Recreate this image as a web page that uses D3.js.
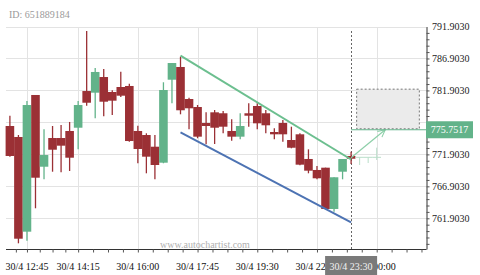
<!DOCTYPE html>
<html>
<head>
<meta charset="utf-8">
<script src="https://d3js.org/d3.v7.min.js"></script>
<style>
  body { margin: 0; background: #fff; }
  svg { display: block; font-family: "Liberation Serif", "Times New Roman", serif; }
</style>
</head>
<body>
<svg width="480" height="275"></svg>
<script>
  // 15 minute candles, 30/4
  const times = ['12:15','12:30','12:45','13:00','13:15','13:30','13:45','14:00','14:15','14:30',
    '14:45','15:00','15:15','15:30','15:45','16:00','16:15','16:30','16:45','17:00',
    '17:15','17:30','17:45','18:00','18:15','18:30','18:45','19:00','19:15','19:30',
    '19:45','20:00','20:15','20:30','20:45','22:00','22:15','22:30','22:45','23:00','23:15'];
  const futureTimes = ['23:30','23:45','00:00','00:15','00:30','00:45','01:00','01:15'];

  const open  = [776.34,774.62,759.81,781.19,769.97,774.46,774.46,775.56,776.07,781.81,
    781.55,784.00,781.66,782.44,782.60,775.56,774.93,773.10,770.60,783.58,
    785.57,780.56,779.31,776.81,778.48,778.33,775.56,774.67,778.33,779.47,
    778.33,775.40,776.81,774.15,775.04,771.18,769.46,769.82,763.36,769.19,771.65];
  const high  = [777.95,774.93,780.25,781.19,775.82,776.34,776.50,776.97,780.25,791.20,
    785.41,785.26,781.92,784.83,782.96,776.39,775.20,774.93,783.18,786.19,
    787.18,780.77,779.62,778.48,778.84,778.69,777.39,778.33,779.89,779.89,
    778.84,775.98,777.28,776.23,775.20,772.69,770.08,769.82,768.32,771.18,772.32];
  const low   = [771.54,757.99,758.40,763.47,768.00,769.19,769.10,769.30,772.69,779.51,
    777.54,777.86,778.06,780.88,773.88,770.51,768.94,768.00,770.51,779.89,
    778.17,775.82,774.42,773.48,773.52,775.20,774.04,774.26,776.23,775.82,
    775.20,774.26,773.88,772.85,770.19,768.94,768.00,763.31,762.93,768.00,770.40];
  const close = [771.65,758.71,779.62,768.25,771.80,772.63,773.26,771.38,779.62,779.98,
    784.79,780.14,780.30,781.08,773.99,772.74,771.54,770.24,781.97,786.19,
    778.80,779.11,774.67,776.34,776.07,776.23,774.67,776.34,777.95,776.76,
    776.45,775.04,775.04,772.94,770.29,769.35,768.16,763.36,768.32,771.18,771.22];

  // faint projected candles after the current bar
  const projIndex = [41, 42, 43];
  const projMid   = [771.44, 771.44, 771.44];
  const projHigh  = [771.44, 771.44, 772.95];
  const projLow   = [770.24, 770.55, 771.02];

  const labelIndex = [2, 8, 15, 22, 29, 36, 43];
  const currentIndex = 40;
  const currentLabel = '30/4 23:30';

  const resistance = [[20, 787.34], [40, 771.10]];
  const support    = [[20, 775.35], [40, 761.26]];
  const projection = [[40, 771.36], [44, 775.75]];
  const forecastBox = { from: 40.65, to: 48, low: 775.9, high: 782.1 };
  const targetLevel = 775.7517;

  const yMajor = [761.903, 766.903, 771.903, 776.903, 781.903, 786.903, 791.903];

  const red = '#9b3035', green = '#62b38a';
  const allTimes = times.concat(futureTimes);

  const svg = d3.select('svg');
  const plotLeft = 6, plotRight = 426, plotTop = 26.5, plotBottom = 249;

  const x = d3.scaleLinear().domain([0, 40]).range([9.9, 351.1]);
  const y = d3.scaleLinear().domain([757.1, 791.903]).range([plotBottom, plotTop]);

  // grid
  const grid = svg.append('g').attr('stroke', '#e3e3e3').attr('stroke-width', 1);
  grid.selectAll('.hg').data(yMajor).enter().append('line')
    .attr('x1', plotLeft).attr('x2', plotRight)
    .attr('y1', d => Math.round(y(d)) + 0.5).attr('y2', d => Math.round(y(d)) + 0.5);
  grid.selectAll('.vg').data(labelIndex).enter().append('line')
    .attr('x1', d => Math.round(x(d)) + 0.5).attr('x2', d => Math.round(x(d)) + 0.5)
    .attr('y1', plotTop + 1).attr('y2', plotBottom);

  svg.append('text').attr('x', 9).attr('y', 17.5)
    .attr('font-size', 10).attr('fill', '#9a9a9a').text('ID: 651889184');
  svg.append('text').attr('x', 160).attr('y', 248)
    .attr('font-size', 10).attr('fill', '#b0b0b0').text('www.autochartist.com');

  // forecast area
  svg.append('rect')
    .attr('x', x(forecastBox.from)).attr('y', y(forecastBox.high))
    .attr('width', x(forecastBox.to) - x(forecastBox.from))
    .attr('height', y(forecastBox.low) - y(forecastBox.high))
    .attr('fill', '#ebebeb').attr('stroke', '#777').attr('stroke-dasharray', '2,2');

  svg.append('line')
    .attr('x1', Math.round(x(currentIndex)) + 0.5).attr('x2', Math.round(x(currentIndex)) + 0.5)
    .attr('y1', 31).attr('y2', plotBottom)
    .attr('stroke', '#666').attr('stroke-dasharray', '2,2');

  // candles
  const idx = d3.range(times.length);
  const bw = 8.6;
  const candles = svg.append('g');
  candles.selectAll('.wick').data(idx).enter().append('line')
    .attr('x1', i => x(i)).attr('x2', i => x(i))
    .attr('y1', i => y(high[i])).attr('y2', i => y(low[i]))
    .attr('stroke', i => close[i] >= open[i] ? green : red).attr('stroke-width', 1.3);
  candles.selectAll('.body').data(idx).enter().append('rect')
    .attr('x', i => x(i) - bw / 2).attr('width', bw)
    .attr('y', i => y(Math.max(open[i], close[i])))
    .attr('height', i => Math.max(1, Math.abs(y(open[i]) - y(close[i]))))
    .attr('fill', i => close[i] >= open[i] ? green : red);

  const proj = svg.append('g').attr('stroke', '#b9dec9').attr('stroke-width', 1);
  proj.selectAll('.pm').data(d3.range(projIndex.length)).enter().append('line')
    .attr('x1', j => x(projIndex[j]) - 4.3).attr('x2', j => x(projIndex[j]) + 4.3)
    .attr('y1', j => y(projMid[j])).attr('y2', j => y(projMid[j]));
  proj.selectAll('.pw').data(d3.range(projIndex.length)).enter().append('line')
    .attr('x1', j => x(projIndex[j])).attr('x2', j => x(projIndex[j]))
    .attr('y1', j => y(projHigh[j])).attr('y2', j => y(projLow[j]));

  // trend lines
  const line = d3.line().x(d => x(d[0])).y(d => y(d[1]));
  svg.append('path').attr('d', line(resistance)).attr('fill', 'none')
    .attr('stroke', '#6cbf8f').attr('stroke-width', 2);
  svg.append('path').attr('d', line(support)).attr('fill', 'none')
    .attr('stroke', '#4d73b3').attr('stroke-width', 2);

  svg.append('defs').append('marker')
    .attr('id', 'head').attr('viewBox', '0 0 10 10').attr('refX', 9).attr('refY', 5)
    .attr('markerWidth', 9).attr('markerHeight', 9).attr('markerUnits', 'userSpaceOnUse')
    .attr('orient', 'auto')
    .append('path').attr('d', 'M1,1 L9,5 L1,9').attr('fill', 'none')
    .attr('stroke', '#8ccfa8').attr('stroke-width', 1.2);
  svg.append('path').attr('d', line(projection)).attr('fill', 'none')
    .attr('stroke', '#8ccfa8').attr('stroke-width', 1.2).attr('marker-end', 'url(#head)');

  svg.append('line')
    .attr('x1', x(currentIndex)).attr('x2', plotRight)
    .attr('y1', y(targetLevel)).attr('y2', y(targetLevel))
    .attr('stroke', green).attr('stroke-width', 1.2);

  // y axis
  const minor = d3.range(758, 792).map(v => v - 0.097);
  const yAxis = svg.append('g').attr('transform', `translate(${plotRight + 0.5},0)`)
    .call(d3.axisRight(y).tickValues(minor).tickSize(3).tickSizeOuter(0).tickFormat(''));
  yAxis.select('.domain').attr('stroke', '#333');
  yAxis.selectAll('.tick line').attr('stroke', '#555');
  svg.append('g').selectAll('text')
    .data(yMajor.filter(v => Math.abs(y(v) - y(targetLevel)) > 9)).enter().append('text')
    .attr('x', 432).attr('y', d => y(d)).attr('dy', '0.36em')
    .attr('font-size', 10).attr('fill', '#222').text(d => d3.format('.4f')(d));

  svg.append('rect').attr('x', plotRight).attr('y', y(targetLevel) - 8.5)
    .attr('width', 47).attr('height', 17).attr('fill', green);
  svg.append('text').attr('x', 449.5).attr('y', y(targetLevel)).attr('dy', '0.36em')
    .attr('text-anchor', 'middle').attr('font-size', 10).attr('fill', '#fff')
    .text(d3.format('.4f')(targetLevel));

  // x axis
  const xMinor = [];
  labelIndex.forEach((v, j) => {
    const next = labelIndex[j + 1];
    if (next !== undefined) for (let s = 1; s < 4; s++) xMinor.push(v + (next - v) * s / 4);
  });
  xMinor.push(0.7, 44.75, 46.5, 48.25);
  const xAxis = svg.append('g').attr('transform', `translate(0,${plotBottom + 0.5})`)
    .call(d3.axisBottom(x).tickValues(labelIndex.concat(xMinor)).tickSize(3).tickSizeOuter(0).tickFormat(''));
  xAxis.select('.domain').attr('d', `M${plotLeft},0H${plotRight + 0.5}`).attr('stroke', '#333');
  xAxis.selectAll('.tick line').attr('stroke', '#555');

  svg.append('g').selectAll('text').data(labelIndex).enter().append('text')
    .attr('x', d => x(d)).attr('y', 269.5).attr('text-anchor', 'middle')
    .attr('font-size', 10).attr('fill', '#111')
    .text(d => (allTimes[d] === '00:00' ? '1/5 ' : '30/4 ') + allTimes[d]);

  svg.append('rect').attr('x', x(currentIndex) - 26).attr('y', 256)
    .attr('width', 52).attr('height', 19).attr('fill', '#7a7a7a');
  svg.append('text').attr('x', x(currentIndex)).attr('y', 269.5).attr('text-anchor', 'middle')
    .attr('font-size', 10).attr('fill', '#f2f2f2').text(currentLabel);
</script>
</body>
</html>
